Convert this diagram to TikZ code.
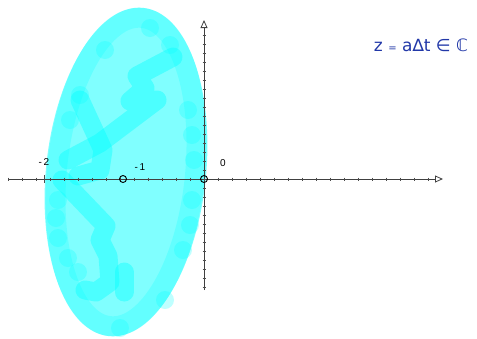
\documentclass[tikz,border=0pt]{standalone}
\usepackage{fontspec}
\setmainfont{Liberation Sans}
\newfontfamily\symfont{DejaVu Sans}
\usetikzlibrary{arrows.meta}
\definecolor{fillc}{HTML}{80FFFF}
\definecolor{strokec}{HTML}{00FFFF}
\definecolor{inkblue}{HTML}{2238A8}
\begin{document}
\begin{tikzpicture}[x=1pt,y=-1pt,
  scrib/.style={draw=strokec, opacity=0.4, line width=19pt, line cap=round, line join=round},
  ring/.style={draw=strokec, opacity=0.22, line width=20pt},
  blob/.style={fill=strokec, opacity=0.25},
  axis/.style={draw=black!75, line width=0.8pt, -{Triangle[open,length=8pt,width=7pt]}},
  tick/.style={draw=black!70, line width=0.5pt},
  ptmark/.style={circle, draw=black, line width=0.9pt, inner sep=0pt, minimum size=7pt},
  lab/.style={font=\fontsize{10}{11}\selectfont, text=black, inner sep=1pt}]
\useasboundingbox (0,0) rectangle (477,338);
% region
\fill[fillc, rotate around={-6:(126,172)}] (126,172) ellipse [x radius=80, y radius=165];
\draw[ring, rotate around={-6:(126,172)}] (126,172) ellipse [x radius=69, y radius=155];
% wobble blobs along the ring
\foreach \p in {(58,200),(56,218),(58,238),(68,258),(78,272),(70,120),(80,95),(105,50),(150,28),(170,45),(188,110),(192,135),(194,160),(192,200),(190,225),(183,250),(165,300),(120,328)}
  \fill[blob] \p circle [radius=9];
% scribbles
\draw[scrib] (173,57) -- (137,76) -- (145,88) -- (130,101) -- (157,100) -- (100,143) -- (68,160);
\draw[scrib] (80,100) -- (103,150) -- (100,170) -- (78,176);
\draw[scrib] (62,180) -- (106,226) -- (100,240) -- (108,256) -- (110,282) -- (96,292) -- (85,290);
\draw[scrib] (124,272) -- (124,292);
% axes
\coordinate (xs) at (8,179);
\coordinate (xe) at (443,179);
\coordinate (ys) at (204,290);
\coordinate (ye) at (204,20);
\draw[axis] (xs) -- (xe);
\draw[axis] (ys) -- (ye);
\foreach \k in {-14,...,16} \draw[tick] ({204+14*\k},177.5) -- ({204+14*\k},180.5);
\foreach \k in {-16,...,12} \draw[tick] (202.5,{179+9*\k}) -- (205.5,{179+9*\k});
\draw[tick, line width=0.9pt] (44,175) -- (44,183);
\node[ptmark] (m1) at (123,179) {};
\node[ptmark] (m0) at (204,179) {};
% labels
\node[lab] (l2) at (44,162) {-\,2};
\node[lab] (l1) at (140,167) {-\,1};
\node[lab] (l0) at (223,163) {0};
\node[text=inkblue, font=\symfont\fontsize{17}{19}\selectfont, inner sep=0pt] (eq) at (421,45) {z {\fontsize{10}{11}\selectfont =} a∆t ∈ ℂ};
\end{tikzpicture}
\end{document}
